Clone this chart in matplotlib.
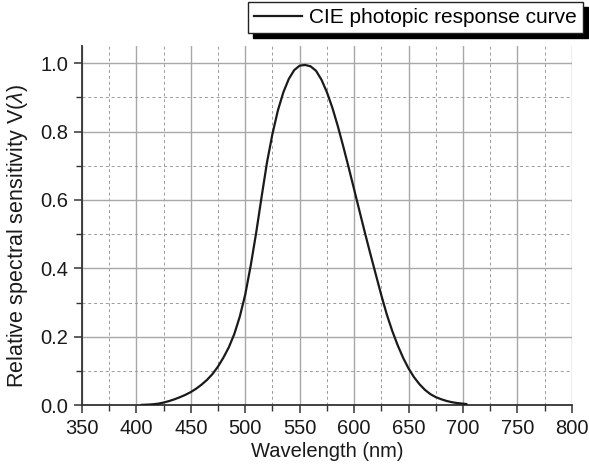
import matplotlib
matplotlib.use("Agg")
import matplotlib.pyplot as plt
from matplotlib.ticker import MultipleLocator

plt.rcParams["font.family"] = ["Liberation Sans", "DejaVu Sans"]
plt.rcParams["mathtext.fontset"] = "custom"
plt.rcParams["mathtext.it"] = "Liberation Sans:italic"
plt.rcParams["mathtext.rm"] = "Liberation Sans"

# ── CIE photopic curve (5 nm steps) ─────────────────────────────────────────
wavelength = [405, 410, 415, 420, 425, 430, 435, 440, 445, 450, 455, 460,
              465, 470, 475, 480, 485, 490, 495, 500, 505, 510, 515, 520,
              525, 530, 535, 540, 545, 550, 555, 560, 565, 570, 575, 580,
              585, 590, 595, 600, 605, 610, 615, 620, 625, 630, 635, 640,
              645, 650, 655, 660, 665, 670, 675, 680, 685, 690, 695, 700,
              703]
v_lambda = [0.0006, 0.0012, 0.0022, 0.0040, 0.0073, 0.0116, 0.0168, 0.0230,
            0.0298, 0.0380, 0.0480, 0.0600, 0.0739, 0.0910, 0.1126, 0.1390,
            0.1693, 0.2080, 0.2586, 0.3230, 0.4073, 0.5030, 0.6082, 0.7100,
            0.7932, 0.8620, 0.9149, 0.9540, 0.9800, 0.9930, 0.9950, 0.9910,
            0.9780, 0.9520, 0.9154, 0.8700, 0.8163, 0.7570, 0.6949, 0.6310,
            0.5668, 0.5030, 0.4412, 0.3810, 0.3210, 0.2650, 0.2170, 0.1750,
            0.1382, 0.1070, 0.0816, 0.0610, 0.0446, 0.0320, 0.0232, 0.0170,
            0.0119, 0.0082, 0.0057, 0.0041, 0.0030]

C_MAJ = "#a8a8a8"
C_MIN = "#9a9a9a"
C_AX = "#333333"
FS = 14.5

fig = plt.figure(figsize=(5.89, 4.71), dpi=100)
ax = fig.add_axes([0.139, 0.140, 0.832, 0.762])

ax.plot(wavelength, v_lambda, color="#1a1a1a", lw=1.6,
        label="CIE photopic response curve", zorder=3)

ax.set_xlim(350, 800)
ax.set_ylim(0, 1.05)
ax.xaxis.set_major_locator(MultipleLocator(50))
ax.xaxis.set_minor_locator(MultipleLocator(25))
ax.yaxis.set_major_locator(MultipleLocator(0.2))
ax.yaxis.set_minor_locator(MultipleLocator(0.1))
ax.yaxis.set_major_formatter(lambda v, p: f"{v:.1f}")

ax.grid(which="major", color=C_MAJ, lw=1.0, ls="-")
ax.grid(which="minor", color=C_MIN, lw=0.7, ls=(0, (3, 3)))
ax.set_axisbelow(True)

for s in ("top", "right"):
    ax.spines[s].set_visible(False)
for s in ("left", "bottom"):
    ax.spines[s].set_color(C_AX)
    ax.spines[s].set_linewidth(1.3)

ax.tick_params(which="major", direction="out", length=6, width=1.1,
               color=C_AX, labelsize=FS, labelcolor="#1a1a1a", pad=4)
ax.tick_params(which="minor", direction="out", length=4, width=1.0,
               color=C_AX)

ax.set_xlabel("Wavelength (nm)", fontsize=FS, color="#1a1a1a", labelpad=3)
ax.set_ylabel(r"Relative spectral sensitivity V($\lambda$)", fontsize=15.5,
              color="#1a1a1a", labelpad=5)
ax.yaxis.set_label_coords(-0.105, 0.47)

leg = ax.legend(loc="upper right", bbox_to_anchor=(0.99, 0.996),
                bbox_transform=fig.transFigure, fancybox=False,
                shadow={"color": "black", "alpha": 1, "ox": 3.6, "oy": -3.6},
                framealpha=1, edgecolor="#222222", fontsize=15,
                handlelength=2.3, borderpad=0.3, borderaxespad=0,
                handletextpad=0.35)
leg.get_frame().set_linewidth(1.0)

fig.savefig("out.png", dpi=100, facecolor="white")
